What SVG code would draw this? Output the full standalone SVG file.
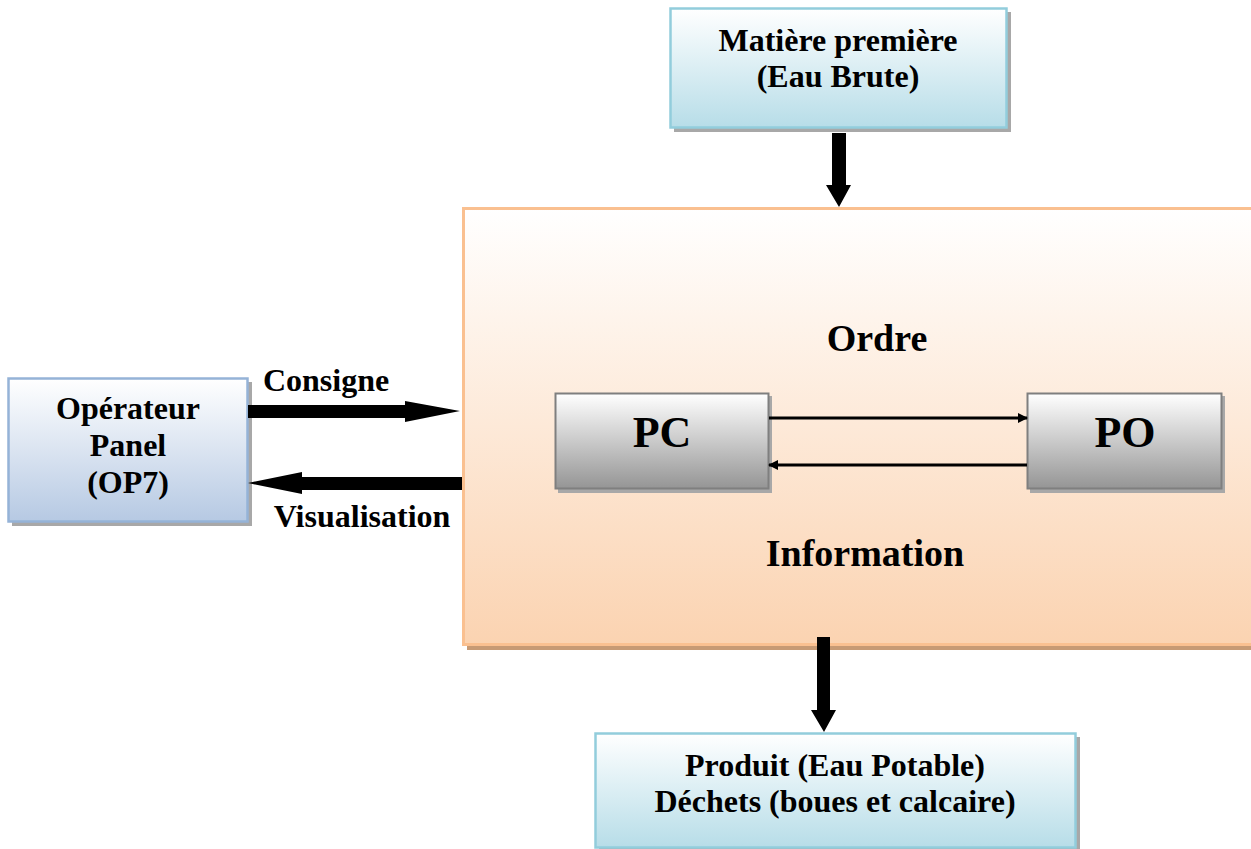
<svg xmlns="http://www.w3.org/2000/svg" width="1251" height="849" viewBox="0 0 1251 849">
<defs>
<linearGradient id="gBlue" x1="0" y1="0" x2="0" y2="1"><stop offset="0" stop-color="#ffffff"/><stop offset="1" stop-color="#b7dde8"/></linearGradient>
<linearGradient id="gSteel" x1="0" y1="0" x2="0" y2="1"><stop offset="0" stop-color="#ffffff"/><stop offset="1" stop-color="#b6c9e3"/></linearGradient>
<linearGradient id="gGray" x1="0" y1="0" x2="0" y2="1"><stop offset="0" stop-color="#ffffff"/><stop offset="1" stop-color="#959595"/></linearGradient>
<linearGradient id="gPeach" x1="0" y1="0" x2="0" y2="1"><stop offset="0" stop-color="#ffffff"/><stop offset="1" stop-color="#fbd3b1"/></linearGradient>
<marker id="ah" markerWidth="10" markerHeight="10" refX="9" refY="5" orient="auto" markerUnits="userSpaceOnUse"><path d="M0,0 L10,5 L0,10 z" fill="#000"/></marker>
</defs>
<style>
text{font-family:"Liberation Serif","Times New Roman",serif;font-weight:bold;fill:#000;text-anchor:middle}
.sh{fill:#a8a8a8}
.shp{fill:#c79a74}
.t32{font-size:32px}
.t38{font-size:38px}
.t44{font-size:44px}
</style>
<rect width="1251" height="849" fill="#fff"/>
<g id="main">
<rect class="shp" x="467" y="212" width="790" height="438"/>
<rect x="463.5" y="208.5" width="790" height="436" fill="url(#gPeach)" stroke="#fac090" stroke-width="3"/>
<text class="t38" x="877" y="351">Ordre</text>
<text class="t38" x="865" y="566">Information</text>
</g>
<g id="matiere">
<rect class="sh" x="674" y="12" width="337" height="120"/>
<rect x="670.5" y="8.5" width="336" height="119" fill="url(#gBlue)" stroke="#92cddc" stroke-width="2.5"/>
<text class="t32" x="838" y="51">Matière première</text>
<text class="t32" x="838" y="87">(Eau Brute)</text>
</g>
<g id="operateur">
<rect class="sh" x="12" y="382" width="240" height="144"/>
<rect x="8.5" y="378.5" width="239" height="143" fill="url(#gSteel)" stroke="#95b3d7" stroke-width="2.5"/>
<text class="t32" x="128" y="419">Opérateur</text>
<text class="t32" x="128" y="456">Panel</text>
<text class="t32" x="128" y="493">(OP7)</text>
</g>
<g id="pc">
<rect class="sh" x="558" y="396" width="214" height="97"/>
<rect x="555.5" y="393.5" width="213" height="95" fill="url(#gGray)" stroke="#7f7f7f" stroke-width="2"/>
<text class="t44" x="662" y="447">PC</text>
</g>
<g id="po">
<rect class="sh" x="1030" y="396" width="195" height="97"/>
<rect x="1027.5" y="393.5" width="194" height="95" fill="url(#gGray)" stroke="#7f7f7f" stroke-width="2"/>
<text class="t44" x="1125" y="447">PO</text>
</g>
<g id="produit">
<rect class="sh" x="599" y="737" width="481" height="115"/>
<rect x="595.5" y="733.5" width="480" height="114" fill="url(#gBlue)" stroke="#92cddc" stroke-width="2.5"/>
<text class="t32" x="835" y="776">Produit (Eau Potable)</text>
<text class="t32" x="835" y="812">Déchets (boues et calcaire)</text>
</g>
<g id="connectors">
<path d="M832,133 H846 V185 H851 L839,207 L826,185 H832 Z" fill="#000"/>
<path d="M817,637 H830 V710 H836 L824,732 L811,710 H817 Z" fill="#000"/>
<path d="M248,405 H405 V401 L460,411 L405,422 V418 H248 Z" fill="#000"/>
<path d="M462,477 H302 V472 L248,483 L302,494 V490 H462 Z" fill="#000"/>
<line x1="769" y1="418" x2="1027" y2="418" stroke="#000" stroke-width="3" marker-end="url(#ah)"/>
<line x1="1027" y1="465" x2="769" y2="465" stroke="#000" stroke-width="3" marker-end="url(#ah)"/>
<text class="t32" x="326" y="391">Consigne</text>
<text class="t32" x="362" y="527">Visualisation</text>
</g>
</svg>
